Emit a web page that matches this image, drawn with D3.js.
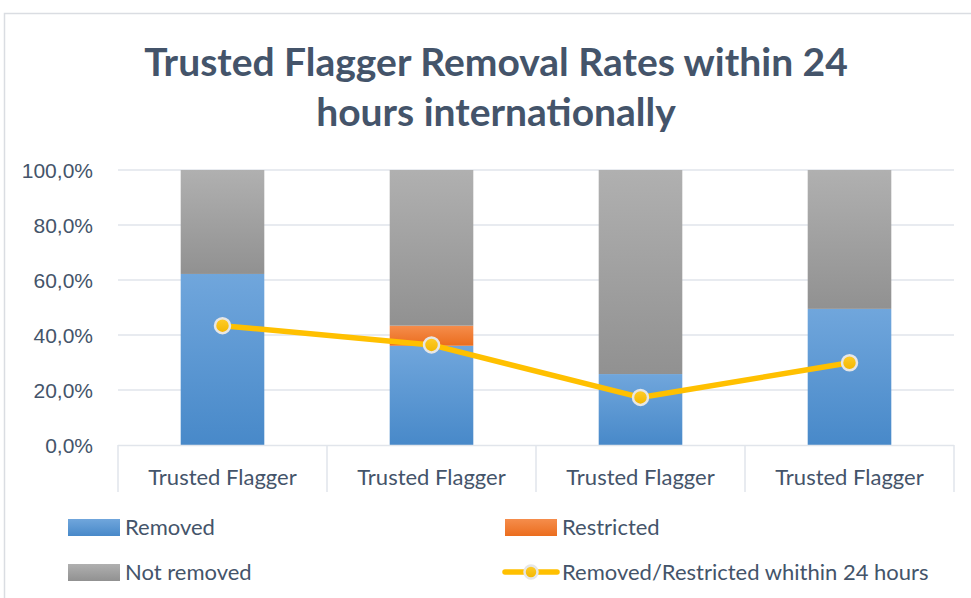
<!DOCTYPE html>
<html lang="en">
<head>
<meta charset="UTF-8">
<title>Trusted Flagger Removal Rates</title>
<style>
  body { margin: 0; background: #fff; }
  svg { font-family: Lato, "Open Sans", sans-serif; }
  .title { font-weight: bold; fill: #44546a; font-size: 39px; }
  .yaxis text { fill: #44546a; font-size: 21px; }
  .xaxis text { fill: #44546a; font-size: 22px; }
  .legend text { fill: #44546a; font-size: 22px; }
</style>
</head>
<body>
<svg width="971" height="598"></svg>

<script src="https://d3js.org/d3.v7.min.js"></script>
<script>
  // values in percent
  var categories = ["Trusted Flagger", "Trusted Flagger", "Trusted Flagger", "Trusted Flagger"];
  var removed    = [62.2, 36.1, 25.8, 49.5];
  var restricted = [0, 7.3, 0, 0];
  var notRemoved = [37.8, 56.6, 74.2, 50.5];
  var within24h  = [43.4, 36.4, 17.3, 29.9];
  var yTicks     = [0, 20, 40, 60, 80, 100];
  var seriesNames = ["Removed", "Restricted", "Not removed", "Removed/Restricted whithin 24 hours"];

  var svg = d3.select("svg");
  var plot = {left: 118, right: 954, top: 170, bottom: 445};

  var rows = categories.map(function(c, i) {
    return {i: i, removed: removed[i], restricted: restricted[i], notRemoved: notRemoved[i]};
  });

  var x = d3.scaleBand()
      .domain(d3.range(categories.length))
      .range([plot.left, plot.right])
      .paddingInner(0.6)
      .paddingOuter(0.3);
  var y = d3.scaleLinear().domain([0, 100]).range([plot.bottom, plot.top]);

  var locale = d3.formatLocale({decimal: ",", thousands: ".", grouping: [3], currency: ["", "€"]});
  var pct = locale.format(".1f");

  // gradients
  var defs = svg.append("defs");
  function grad(id, top, bottom) {
    var g = defs.append("linearGradient").attr("id", id)
        .attr("x1", 0).attr("y1", 0).attr("x2", 0).attr("y2", 1);
    g.append("stop").attr("offset", "0%").attr("stop-color", top);
    g.append("stop").attr("offset", "100%").attr("stop-color", bottom);
  }
  grad("gBlue", "#70a6dc", "#4889c9");
  grad("gOrange", "#f58d4c", "#eb6d1e");
  grad("gGray", "#b0b0b0", "#919191");
  grad("gGold", "#ffcd2a", "#f2b600");
  var fills = {removed: "url(#gBlue)", restricted: "url(#gOrange)", notRemoved: "url(#gGray)"};

  // chart frame
  svg.append("path")
      .attr("d", "M4.5,598V13.5H971")
      .attr("fill", "none").attr("stroke", "#dadde2").attr("stroke-width", 1.5);

  // title
  var title = svg.append("text").attr("class", "title").attr("text-anchor", "middle");
  title.append("tspan").attr("x", 496).attr("y", 76).text("Trusted Flagger Removal Rates within 24");
  title.append("tspan").attr("x", 496).attr("y", 126).text("hours internationally");

  // gridlines
  svg.append("g").selectAll("line")
      .data(yTicks.slice(1))
      .join("line")
      .attr("x1", plot.left).attr("x2", plot.right)
      .attr("y1", function(d) { return y(d); }).attr("y2", function(d) { return y(d); })
      .attr("stroke", "#e1e5eb").attr("stroke-width", 1.5);

  // y axis labels
  var yAxis = svg.append("g").attr("class", "yaxis")
      .attr("transform", "translate(" + (plot.left - 22) + ",0)")
      .call(d3.axisLeft(y).tickValues(yTicks).tickSize(0).tickFormat(function(d) { return pct(d) + "%"; }));
  yAxis.select(".domain").remove();
  yAxis.selectAll("text").attr("dy", "0.35em");

  // stacked bars
  var stack = d3.stack().keys(["removed", "restricted", "notRemoved"]);
  svg.append("g").selectAll("g")
      .data(stack(rows))
      .join("g")
      .attr("fill", function(s) { return fills[s.key]; })
      .selectAll("rect")
      .data(function(s) { return s; })
      .join("rect")
      .attr("x", function(d) { return x(d.data.i); })
      .attr("width", x.bandwidth())
      .attr("y", function(d) { return y(d[1]); })
      .attr("height", function(d) { return y(d[0]) - y(d[1]); });

  // category axis
  var xAxis = svg.append("g").attr("class", "xaxis");
  xAxis.append("line")
      .attr("x1", plot.left).attr("x2", plot.right)
      .attr("y1", plot.bottom + 0.5).attr("y2", plot.bottom + 0.5)
      .attr("stroke", "#e1e5eb").attr("stroke-width", 1.5);
  var step = x.step();
  xAxis.selectAll("line.sep")
      .data(d3.range(categories.length + 1))
      .join("line").attr("class", "sep")
      .attr("x1", function(i) { return plot.left + i * step; })
      .attr("x2", function(i) { return plot.left + i * step; })
      .attr("y1", plot.bottom).attr("y2", plot.bottom + 47)
      .attr("stroke", "#e1e5eb").attr("stroke-width", 1.5);
  xAxis.selectAll("text")
      .data(categories)
      .join("text")
      .attr("x", function(d, i) { return x(i) + x.bandwidth() / 2; })
      .attr("y", plot.bottom + 40)
      .attr("text-anchor", "middle")
      .text(function(d) { return d; });

  // line series
  var line = d3.line()
      .x(function(d, i) { return x(i) + x.bandwidth() / 2; })
      .y(function(d) { return y(d); });
  svg.append("path")
      .datum(within24h)
      .attr("d", line)
      .attr("fill", "none")
      .attr("stroke", "#ffc000")
      .attr("stroke-width", 5.5)
      .attr("stroke-linejoin", "round");
  svg.append("g").selectAll("circle")
      .data(within24h)
      .join("circle")
      .attr("cx", function(d, i) { return x(i) + x.bandwidth() / 2; })
      .attr("cy", function(d) { return y(d); })
      .attr("r", 7.5)
      .attr("fill", "url(#gGold)")
      .attr("stroke", "#e6e6e6")
      .attr("stroke-width", 2.5);

  // legend
  var legend = svg.append("g").attr("class", "legend");
  var legendPos = [[68, 527], [505, 527], [68, 572], [505, 572]];
  var legendFill = ["url(#gBlue)", "url(#gOrange)", "url(#gGray)", null];
  seriesNames.forEach(function(name, k) {
    var p = legendPos[k];
    var g = legend.append("g").attr("transform", "translate(" + p[0] + "," + p[1] + ")");
    if (legendFill[k]) {
      g.append("rect").attr("x", 0).attr("y", -8).attr("width", 52).attr("height", 17)
          .attr("fill", legendFill[k]);
    } else {
      g.append("line").attr("x1", 0).attr("x2", 52).attr("y1", 0).attr("y2", 0)
          .attr("stroke", "#ffc000").attr("stroke-width", 5.5).attr("stroke-linecap", "round");
      g.append("circle").attr("cx", 26).attr("cy", 0).attr("r", 6.5)
          .attr("fill", "url(#gGold)").attr("stroke", "#e6e6e6").attr("stroke-width", 2.5);
    }
    g.append("text").attr("x", 57).attr("y", 0).attr("dy", "0.35em").text(name);
  });
</script>
</body>
</html>
